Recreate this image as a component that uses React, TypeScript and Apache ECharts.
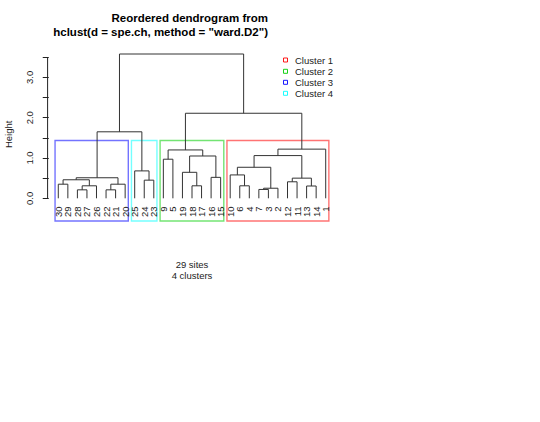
import React, { useEffect, useRef } from 'react';
import * as echarts from 'echarts';

const titleLines = ['Reordered dendrogram from', 'hclust(d = spe.ch, method = "ward.D2")'];
const footerLines = ['29 sites', '4 clusters'];
const yAxisName = 'Height';

// leaf labels, in dendrogram order (left to right)
const leafOrder = ['30', '29', '28', '27', '26', '22', '21', '20', '25', '24', '23', '9', '5', '19', '18', '17', '16', '15', '10', '6', '4', '7', '3', '2', '12', '11', '13', '14', '1'];

// merges: strings are leaves, numbers refer to previous merges
const mergeLeft: (string | number)[] = ['30', '28', 1, 0, '22', 4, 3, '24', '25', 6, '9', '18', '19', '16', 12, 10, '6', '10', '7', 18, 17, '12', '13', 21, 20, 24, 15, 9];
const mergeRight: (string | number)[] = ['29', '27', '26', 2, '21', '20', 5, '23', 7, 8, '5', '17', 11, '15', 13, 14, '4', 16, '3', '2', 19, '11', '14', 22, 23, '1', 25, 26];
const mergeHeight = [0.35, 0.21, 0.31, 0.46, 0.21, 0.35, 0.51, 0.45, 0.68, 1.65, 0.97, 0.31, 0.645, 0.52, 1.05, 1.2, 0.31, 0.58, 0.22, 0.25, 0.77, 0.41, 0.305, 0.5, 1.06, 1.22, 2.11, 3.58];

const clusterNames = ['Cluster 1', 'Cluster 2', 'Cluster 3', 'Cluster 4'];
const clusterColors = ['#FF0000', '#00CD00', '#0000FF', '#00FFFF'];
const clusterRoots = [25, 15, 6, 8];

const yTickValues = [0, 0.5, 1, 1.5, 2, 2.5, 3, 3.5];
const yLabelValues = [0, 1, 2, 3];

const FONT = '"Liberation Sans", Arial, Helvetica, sans-serif';

export default function App() {
  const ref = useRef<HTMLDivElement>(null);

  useEffect(() => {
    if (!ref.current) return;
    const chart = echarts.init(ref.current, undefined, { renderer: 'svg' });

    const n = leafOrder.length;
    const leafPos: Record<string, number> = {};
    leafOrder.forEach((l, i) => (leafPos[l] = i + 1));

    const nodeX: number[] = [];
    const nodeLeaves: number[][] = [];
    const childX = (c: string | number) => (typeof c === 'string' ? leafPos[c] : nodeX[c]);
    const childH = (c: string | number) => (typeof c === 'string' ? 0 : mergeHeight[c]);
    const childLeaves = (c: string | number) => (typeof c === 'string' ? [leafPos[c]] : nodeLeaves[c]);
    const segData: number[][] = [];
    for (let m = 0; m < mergeHeight.length; m++) {
      const a = mergeLeft[m];
      const b = mergeRight[m];
      nodeX[m] = (childX(a) + childX(b)) / 2;
      nodeLeaves[m] = childLeaves(a).concat(childLeaves(b));
      segData.push([childX(a), childH(a), childX(b), childH(b), mergeHeight[m]]);
    }

    const xMin = 1 - 0.04 * (n - 1);
    const xMax = n + 0.04 * (n - 1);
    const yMin = -0.563;
    const yMax = 3.739;

    const k = clusterNames.length;
    const sortedH = mergeHeight.slice().sort((p, q) => q - p);
    const rectTop = (sortedH[k - 2] + sortedH[k - 1]) / 2;
    const rectData = clusterRoots.map((r, i) => [
      Math.min(...nodeLeaves[r]) - 0.34,
      Math.max(...nodeLeaves[r]) + 0.33,
      rectTop,
      i,
    ]);

    const labelY = -0.203;
    const labelData = leafOrder.map((l, i) => ({ value: [i + 1, labelY], name: l }));

    const legendRowY = [60, 71.3, 82.3, 93.3];

    chart.setOption({
      animation: false,
      backgroundColor: '#ffffff',
      grid: { left: 47.6, top: 47.6, width: 288.8, height: 173.4 },
      xAxis: { type: 'value', min: xMin, max: xMax, show: false },
      yAxis: {
        type: 'value',
        min: yMin,
        max: yMax,
        axisLine: { show: false },
        splitLine: { show: false },
        axisTick: { show: true, customValues: yTickValues, length: 6, lineStyle: { color: '#222', width: 1 } },
        axisLabel: {
          customValues: yLabelValues,
          formatter: (v: number) => v.toFixed(1),
          rotate: 90,
          margin: 13,
          fontSize: 9.5,
          fontFamily: FONT,
          color: '#222',
        },
      },
      graphic: [
        {
          type: 'text', x: 268, y: 18.3,
          style: { text: titleLines[0], align: 'right', verticalAlign: 'middle', font: `bold 11.5px ${FONT}`, fill: '#000' },
        },
        {
          type: 'text', x: 268, y: 32.3,
          style: { text: titleLines[1], align: 'right', verticalAlign: 'middle', font: `bold 11.5px ${FONT}`, fill: '#000' },
        },
        {
          type: 'text', x: 8.5, y: 134.3, rotation: Math.PI / 2,
          style: { text: yAxisName, align: 'center', verticalAlign: 'middle', font: `9.5px ${FONT}`, fill: '#222' },
        },
        ...footerLines.map((t, i) => ({
          type: 'text', x: 192, y: 264.3 + i * 11.2,
          style: { text: t, align: 'center', verticalAlign: 'middle', font: `9.5px ${FONT}`, fill: '#222' },
        })),
        ...clusterNames.map((name, i) => ({
          type: 'group',
          children: [
            {
              type: 'rect',
              shape: { x: 283.5, y: legendRowY[i] - 2, width: 4, height: 4 },
              style: { fill: 'none', stroke: clusterColors[i], lineWidth: 1, opacity: 0.9 },
            },
            {
              type: 'text', x: 295, y: legendRowY[i],
              style: { text: name, align: 'left', verticalAlign: 'middle', font: `9.5px ${FONT}`, fill: '#222' },
            },
          ],
        })),
      ],
      series: [
        {
          type: 'custom',
          name: 'axis',
          data: [[xMin, 0, yTickValues[yTickValues.length - 1]]],
          renderItem: (_p: any, api: any) => {
            const a = api.coord([api.value(0), api.value(1)]);
            const b = api.coord([api.value(0), api.value(2)]);
            return {
              type: 'line',
              shape: { x1: a[0], y1: a[1], x2: b[0], y2: b[1] },
              style: { stroke: '#222', lineWidth: 1 },
            };
          },
          silent: true,
        },
        {
          type: 'custom',
          name: 'clusters',
          data: rectData,
          encode: { x: [0, 1], y: 2 },
          renderItem: (_p: any, api: any) => {
            const p1 = api.coord([api.value(0), api.value(2)]);
            const p2 = api.coord([api.value(1), yMin]);
            const ci = api.value(3);
            return {
              type: 'rect',
              shape: { x: p1[0], y: p1[1], width: p2[0] - p1[0], height: p2[1] - p1[1] },
              style: { fill: 'none', stroke: clusterColors[ci], lineWidth: 1.4, opacity: 0.55 },
            };
          },
          silent: true,
        },
        {
          type: 'custom',
          name: 'dendrogram',
          data: segData,
          encode: { x: [0, 2], y: 4 },
          renderItem: (_p: any, api: any) => {
            const p1 = api.coord([api.value(0), api.value(1)]);
            const p2 = api.coord([api.value(0), api.value(4)]);
            const p3 = api.coord([api.value(2), api.value(4)]);
            const p4 = api.coord([api.value(2), api.value(3)]);
            return {
              type: 'polyline',
              shape: { points: [p1, p2, p3, p4] },
              style: { fill: 'none', stroke: '#333', lineWidth: 1 },
            };
          },
          silent: true,
        },
        {
          type: 'custom',
          name: 'labels',
          data: labelData,
          renderItem: (params: any, api: any) => {
            const p = api.coord([api.value(0), api.value(1)]);
            return {
              type: 'text',
              x: p[0],
              y: p[1],
              rotation: Math.PI / 2,
              style: {
                text: leafOrder[params.dataIndex],
                align: 'right',
                verticalAlign: 'middle',
                font: `9.5px ${FONT}`,
                fill: '#222',
              },
            };
          },
          silent: true,
        },
      ],
    });

    return () => chart.dispose();
  }, []);

  return <div ref={ref} style={{ position: 'absolute', left: 0, top: 0, width: 540, height: 422 }} />;
}
